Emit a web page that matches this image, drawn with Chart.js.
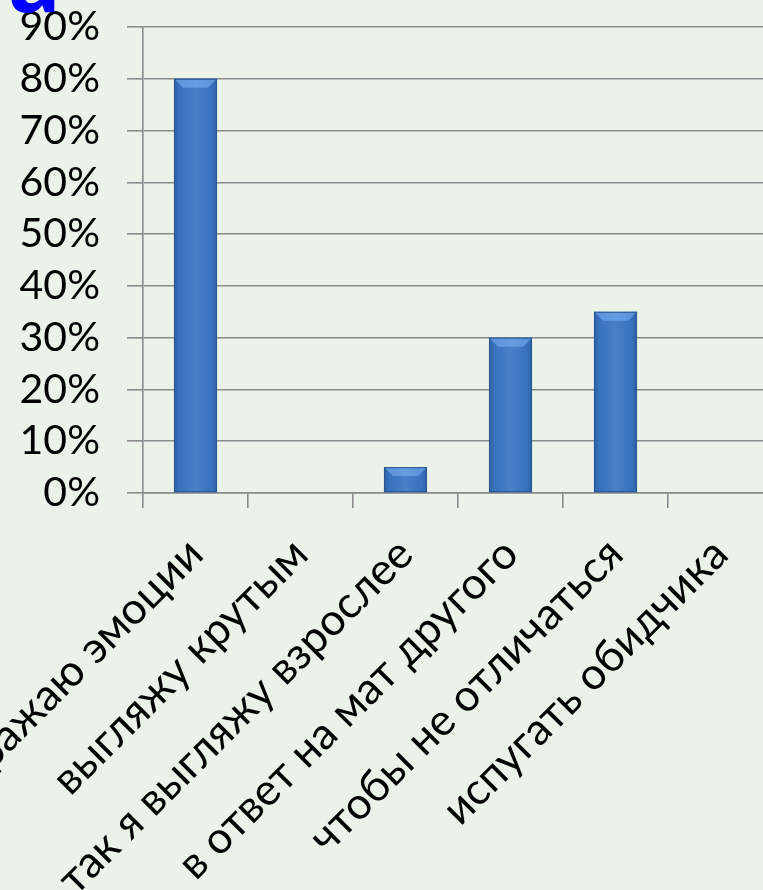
<!DOCTYPE html>
<html>
<head>
<meta charset="utf-8">
<script src="https://cdn.jsdelivr.net/npm/chart.js@4.4.0/dist/chart.umd.min.js"></script>
<style>
  html, body { margin: 0; padding: 0; background: #ebf3e9; }
  #wrap { position: relative; width: 763px; height: 890px; overflow: hidden; background: #ebf3e9; }
  #chart { position: absolute; left: 0; top: 0; }
  .title { position: absolute; left: 8px; top: -82px; line-height: 120px; font: bold 88px "Noto Sans", sans-serif; color: #0000ff; }
</style>
</head>
<body>
<div id="wrap">
  <canvas id="chart" width="800" height="1000" style="width:800px;height:1000px"></canvas>
  <div class="title">а</div>
</div>
<script>
const categories = [
    "выражаю эмоции",
    "выгляжу крутым",
    "так я выгляжу взрослее",
    "в ответ на мат другого",
    "чтобы не отличаться",
    "испугать обидчика"
];
const values = [80, 0, 5, 30, 35, 0];
const yTicks = [0, 10, 20, 30, 40, 50, 60, 70, 80, 90];

const gridColor = "#8a8a8a";

// bevel look of the bars, drawn over what Chart.js placed
const bevelPlugin = {
    id: "bevel",
    afterDatasetsDraw(chart) {
        const ctx = chart.ctx;
        chart.getDatasetMeta(0).data.forEach(bar => {
            const h = bar.base - bar.y;
            if (h < 1) return;
            const l = bar.x - bar.width / 2, r = bar.x + bar.width / 2, t = bar.y;
            ctx.save();
            const g = ctx.createLinearGradient(l, 0, r, 0);
            g.addColorStop(0, "rgba(20,50,100,0.35)");
            g.addColorStop(0.12, "rgba(20,50,100,0.05)");
            g.addColorStop(0.5, "rgba(255,255,255,0.08)");
            g.addColorStop(0.88, "rgba(20,50,100,0.05)");
            g.addColorStop(1, "rgba(20,50,100,0.35)");
            ctx.fillStyle = g;
            ctx.fillRect(l, t, r - l, h);
            const bv = Math.min(9, h / 2);
            ctx.beginPath();
            ctx.moveTo(l, t);
            ctx.lineTo(r, t);
            ctx.lineTo(r - bv, t + bv);
            ctx.lineTo(l + bv, t + bv);
            ctx.closePath();
            ctx.fillStyle = "rgba(140,190,255,0.45)";
            ctx.fill();
            ctx.strokeStyle = "#2a5690";
            ctx.lineWidth = 1;
            ctx.strokeRect(l + 0.5, t + 0.5, r - l - 1, h - 1);
            ctx.restore();
        });
    }
};

const ctx = document.getElementById("chart").getContext("2d");
const myChart = new Chart(ctx, {
    type: "bar",
    data: {
        labels: categories,
        datasets: [{
            data: values,
            backgroundColor: "#3a76c4",
            borderWidth: 0,
            categoryPercentage: 1,
            barPercentage: 0.41
        }]
    },
    options: {
        responsive: false,
        animation: false,
        devicePixelRatio: 1,
        layout: { padding: { top: 27, left: 0, right: 27, bottom: 0 } },
        plugins: { legend: { display: false }, tooltip: { enabled: false } },
        scales: {
            x: {
                grid: { offset: true, drawOnChartArea: false, drawTicks: true, tickLength: 15, color: gridColor, lineWidth: 1.6 },
                border: { color: gridColor, width: 1.6 },
                ticks: {
                    color: "#000",
                    font: { family: "Lato", size: 44 },
                    minRotation: 45,
                    maxRotation: 45,
                    autoSkip: false,
                    padding: 20
                },
                afterFit(scale) {
                    scale.height = 507;
                    scale.paddingLeft = 0;
                    scale.paddingRight = 0;
                }
            },
            y: {
                min: 0,
                max: 90,
                afterBuildTicks(scale) {
                    scale.ticks = yTicks.map(v => ({ value: v }));
                },
                grid: { color: gridColor, lineWidth: 1.6, tickLength: 16 },
                border: { color: gridColor, width: 1.6 },
                ticks: {
                    color: "#000",
                    font: { family: "Lato", size: 41 },
                    padding: 27,
                    autoSkip: false,
                    callback: v => v + "%"
                },
                afterFit(scale) {
                    scale.width = 143;
                    scale.paddingTop = 0;
                    scale.paddingBottom = 0;
                }
            }
        }
    },
    plugins: [bevelPlugin]
});
</script>
</body>
</html>
